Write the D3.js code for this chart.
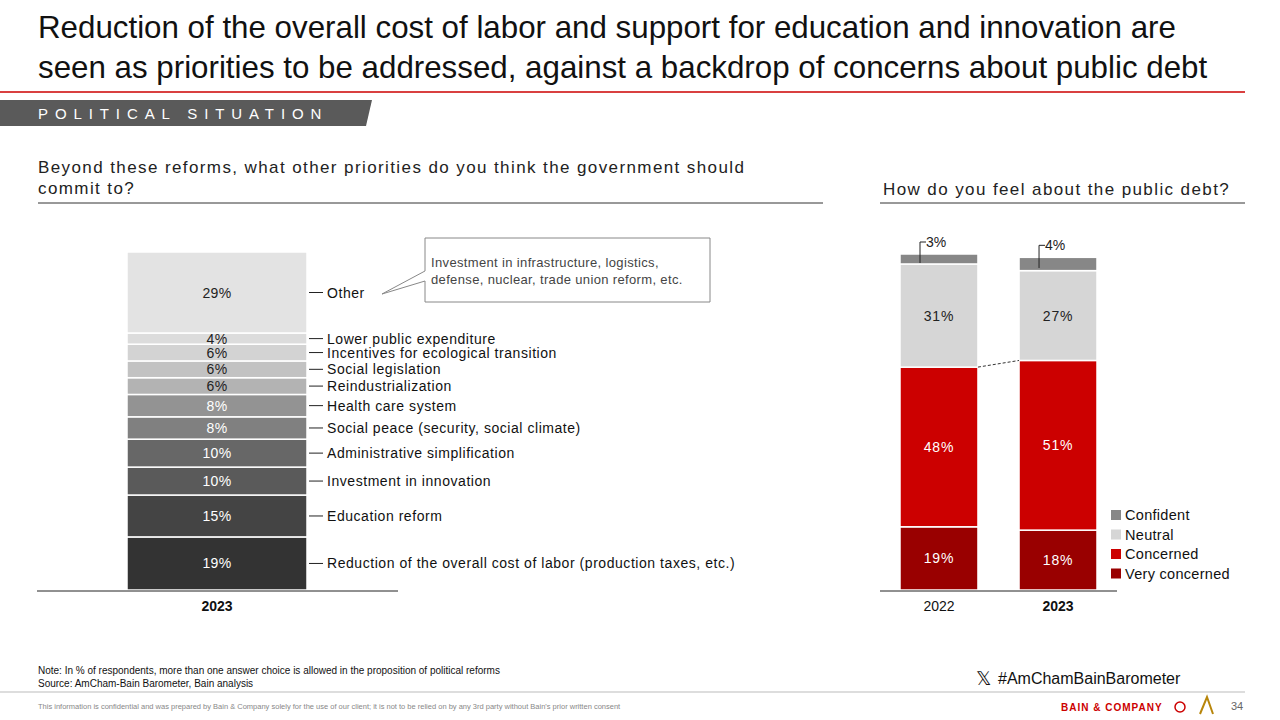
<!DOCTYPE html>
<html><head><meta charset="utf-8">
<script src="https://cdn.jsdelivr.net/npm/d3@7"></script>
<style>body{margin:0;background:#fff;font-family:Arial,"Liberation Sans",sans-serif}</style>
</head><body><svg id="c" width="1280" height="720"></svg>
<script>
const priorities = ["Reduction of the overall cost of labor (production taxes, etc.)","Education reform","Investment in innovation","Administrative simplification","Social peace (security, social climate)","Health care system","Reindustrialization","Social legislation","Incentives for ecological transition","Lower public expenditure","Other"];
const priorityValues = [19,15,10,10,8,8,6,6,6,4,29];
const priorityColors = ["#333333","#444444","#5a5a5a","#676767","#808080","#939393","#b3b3b3","#c2c2c2","#d3d3d3","#dcdcdc","#e3e3e3"];
const years = ["2022","2023"];
const debtCategories = ["Very concerned","Concerned","Neutral","Confident"];
const debtValues = {"2022":[19,48,31,3],"2023":[18,51,27,4]};
const debtColors = ["#990000","#cc0000","#d6d6d6","#878787"];

const svg = d3.select("#c");
const title = ["Reduction of the overall cost of labor and support for education and innovation are","seen as priorities to be addressed, against a backdrop of concerns about public debt"];
title.forEach((t,i)=>svg.append("text").attr("x",38).attr("y",38+i*40).attr("font-size",31.3).attr("fill","#111").text(t));
svg.append("line").attr("x1",0).attr("x2",1245).attr("y1",92).attr("y2",92).attr("stroke","#cc0000").attr("stroke-width",1.5);
svg.append("path").attr("d","M0,100 H372 L366,126 H0 Z").attr("fill","#5a5a5a");
svg.append("text").attr("x",38).attr("y",119).attr("fill","#fff").attr("font-size",15).attr("letter-spacing",6.9).text("POLITICAL SITUATION");

svg.append("text").attr("x",38).attr("y",173).attr("font-size",17).attr("fill","#222").attr("letter-spacing",1.4).text("Beyond these reforms, what other priorities do you think the government should");
svg.append("text").attr("x",38).attr("y",194).attr("font-size",17).attr("fill","#222").attr("letter-spacing",1.4).text("commit to?");
svg.append("line").attr("x1",38).attr("x2",823).attr("y1",203).attr("y2",203).attr("stroke","#333");
svg.append("text").attr("x",883).attr("y",195).attr("font-size",17).attr("fill","#222").attr("letter-spacing",1.4).text("How do you feel about the public debt?");
svg.append("line").attr("x1",880).attr("x2",1245).attr("y1",203).attr("y2",203).attr("stroke","#333");

const total = d3.sum(priorityValues);
const yL = d3.scaleLinear().domain([0,total]).range([590,252]);
const xL = d3.scaleBand().domain(["2023"]).range([127,307]).padding(0);
let cum=0;
const segs = priorityValues.map((v,i)=>{const s={v,i,y0:cum,y1:cum+v};cum+=v;return s;});
const gL = svg.append("g");
gL.selectAll("rect").data(segs).join("rect")
 .attr("x",xL("2023")).attr("width",xL.bandwidth())
 .attr("y",d=>yL(d.y1)).attr("height",d=>yL(d.y0)-yL(d.y1))
 .attr("fill",d=>priorityColors[d.i]).attr("stroke","#fff").attr("stroke-width",1.5);
gL.selectAll("text.v").data(segs).join("text")
 .attr("x",xL("2023")+xL.bandwidth()/2).attr("y",d=>(yL(d.y0)+yL(d.y1))/2+5)
 .attr("text-anchor","middle").attr("font-size",14).attr("letter-spacing",0.4)
 .attr("fill",d=>d.i<=5?"#fff":"#222").text(d=>d.v+"%");
gL.selectAll("g.lab").data(segs).join("g").each(function(d){
  const yy=(yL(d.y0)+yL(d.y1))/2;
  d3.select(this).append("line").attr("x1",309).attr("x2",323).attr("y1",yy).attr("y2",yy).attr("stroke","#222");
  d3.select(this).append("text").attr("x",327).attr("y",yy+5).attr("font-size",14).attr("letter-spacing",0.55).attr("fill","#111").text(priorities[d.i]);
});
svg.append("g").attr("transform","translate(0,591)").call(d3.axisBottom(xL).tickSize(0).tickPadding(10))
 .call(g=>g.select(".domain").remove())
 .call(g=>g.selectAll("text").attr("font-size",14).attr("font-weight","bold").attr("fill","#111").attr("font-family","Arial"));
svg.append("line").attr("x1",37).attr("x2",398).attr("y1",591).attr("y2",591).attr("stroke","#222");
svg.append("path").attr("d","M425,238 H710 V302 H425 V281 L382,294 L425,271 Z").attr("fill","#fff").attr("stroke","#888");
svg.append("text").attr("x",431).attr("y",267).attr("font-size",13).attr("letter-spacing",0.35).attr("fill","#444").text("Investment in infrastructure, logistics,");
svg.append("text").attr("x",431).attr("y",284).attr("font-size",13).attr("letter-spacing",0.35).attr("fill","#444").text("defense, nuclear, trade union reform, etc.");

const xR = d3.scaleBand().domain(years).range([900,1097]).paddingInner(0.345).paddingOuter(0);
const yR = d3.scaleLinear().domain([0,101]).range([590,254]);
const stacks = {};
years.forEach(yr=>{
  let c=0; stacks[yr]=debtValues[yr].map((v,i)=>{const s={yr,v,i,y0:c,y1:c+v};c+=v;return s;});
  const g=svg.append("g");
  g.selectAll("rect").data(stacks[yr]).join("rect")
   .attr("x",xR(yr)).attr("width",xR.bandwidth())
   .attr("y",d=>yR(d.y1)).attr("height",d=>yR(d.y0)-yR(d.y1))
   .attr("fill",d=>debtColors[d.i]).attr("stroke","#fff").attr("stroke-width",1.5);
  g.selectAll("text").data(stacks[yr].filter(d=>d.i<3)).join("text")
   .attr("x",xR(yr)+xR.bandwidth()/2).attr("y",d=>(yR(d.y0)+yR(d.y1))/2+5)
   .attr("text-anchor","middle").attr("font-size",14).attr("letter-spacing",0.8)
   .attr("fill",d=>d.i<2?"#fff":"#222").text(d=>d.v+"%");
  const top=stacks[yr][3]; const lx=xR(yr)+20;
  g.append("path").attr("d",`M${lx},${(yR(top.y0)+yR(top.y1))/2+4} V${yR(top.y1)-12} H${lx+6}`).attr("fill","none").attr("stroke","#222");
  g.append("text").attr("x",lx+6).attr("y",yR(top.y1)-7).attr("font-size",14).attr("fill","#222").text(top.v+"%");
});
svg.append("line").attr("x1",xR("2022")+xR.bandwidth()).attr("y1",yR(stacks["2022"][1].y1))
 .attr("x2",xR("2023")).attr("y2",yR(stacks["2023"][1].y1)).attr("stroke","#333").attr("stroke-dasharray","3,2");
svg.append("g").attr("transform","translate(0,591)").call(d3.axisBottom(xR).tickSize(0).tickPadding(10))
 .call(g=>g.select(".domain").remove())
 .call(g=>g.selectAll("text").attr("font-size",14).attr("fill","#111").attr("font-family","Arial").attr("font-weight",d=>d==="2023"?"bold":"normal"));
svg.append("line").attr("x1",880).attr("x2",1117).attr("y1",591).attr("y2",591).attr("stroke","#222");
const legOrder=[3,2,1,0];
legOrder.forEach((ci,k)=>{
  const y=520+k*19.5;
  svg.append("rect").attr("x",1111).attr("y",y-10).attr("width",10).attr("height",10).attr("fill",debtColors[ci]);
  svg.append("text").attr("x",1125).attr("y",y).attr("font-size",14.5).attr("letter-spacing",0.3).attr("fill","#111").text(debtCategories[ci]);
});

svg.append("text").attr("x",38).attr("y",674).attr("font-size",10).attr("fill","#111").text("Note: In % of respondents, more than one answer choice is allowed in the proposition of political reforms");
svg.append("text").attr("x",38).attr("y",687).attr("font-size",10).attr("fill","#111").text("Source: AmCham-Bain Barometer, Bain analysis");
svg.append("text").attr("x",976).attr("y",685).attr("font-size",19).attr("fill","#111").text("𝕏");
svg.append("text").attr("x",998).attr("y",684).attr("font-size",16).attr("fill","#111").text("#AmChamBainBarometer");
svg.append("line").attr("x1",0).attr("x2",1245).attr("y1",692).attr("y2",692).attr("stroke","#bbb");
svg.append("text").attr("x",38).attr("y",709).attr("font-size",7.5).attr("fill","#888").text("This information is confidential and was prepared by Bain & Company solely for the use of our client; it is not to be relied on by any 3rd party without Bain's prior written consent");
svg.append("text").attr("x",1061).attr("y",711).attr("font-size",10).attr("font-weight","bold").attr("fill","#cc0000").attr("letter-spacing",1).text("BAIN & COMPANY");
svg.append("circle").attr("cx",1180).attr("cy",707).attr("r",5).attr("fill","none").attr("stroke","#cc0000").attr("stroke-width",1.5);
svg.append("path").attr("d","M1200,714 L1207,697 L1213,714").attr("fill","none").attr("stroke","#b8860b").attr("stroke-width",2);
svg.append("text").attr("x",1231).attr("y",710).attr("font-size",11).attr("fill","#666").text("34");
</script></body></html>
